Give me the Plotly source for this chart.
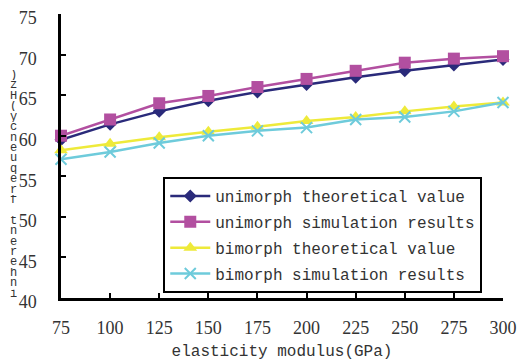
import plotly.graph_objects as go

modulus = [75, 100, 125, 150, 175, 200, 225, 250, 275, 300]
uni_theo = [59.5, 61.4, 63.0, 64.3, 65.4, 66.3, 67.2, 68.0, 68.7, 69.4]
uni_sim = [60.0, 62.0, 64.0, 64.9, 66.0, 67.0, 68.0, 69.0, 69.5, 69.8]
bi_theo = [58.2, 59.0, 59.8, 60.5, 61.1, 61.8, 62.3, 63.0, 63.6, 64.1]
bi_sim = [57.1, 58.0, 59.1, 60.0, 60.6, 61.0, 62.0, 62.3, 63.0, 64.1]
names = ["unimorph theoretical value", "unimorph simulation results",
         "bimorph theoretical value", "bimorph simulation results"]
x_title = "elasticity modulus(GPa)"
y_title = "inherent frequency(Hz)"

series = [uni_theo, uni_sim, bi_theo, bi_sim]
colors = ["#2A2A7A", "#B24FA0", "#EEEA3A", "#6ECBDB"]
symbols = ["diamond", "square", "triangle-up", "x-thin"]
sizes = [10, 12, 12, 11]

fig = go.Figure()
for i, (ys, nm, c, s, sz) in enumerate(zip(series, names, colors, symbols, sizes)):
    marker = dict(symbol=s, size=sz, color=c)
    if s == "x-thin":
        marker["line"] = dict(color=c, width=2)
    fig.add_trace(go.Scatter(x=modulus, y=ys, name=nm, mode="lines+markers",
                             line=dict(color=c, width=2.5), marker=marker,
                             legendgroup=f"g{i}", cliponaxis=False))

W, H = 519, 362
L, R, T, B = 60.5, 15.5, 14, 64.3
pw, ph = W - L - R, H - T - B

def px_x(x):
    return (x - L) / pw

def px_y(y):
    return (H - B - y) / ph

font_mono = "Liberation Mono, DejaVu Sans Mono, monospace"
font_serif = "Liberation Serif, DejaVu Serif, serif"

fig.update_layout(
    width=W, height=H,
    margin=dict(l=L, r=R, t=T, b=B, pad=0, autoexpand=False),
    paper_bgcolor="white", plot_bgcolor="white",
    showlegend=True,
    legend=dict(x=px_x(163), y=px_y(177), xanchor="left", yanchor="top",
                bgcolor="white", bordercolor="black", borderwidth=2,
                font=dict(family=font_mono, size=16, color="#333"),
                itemwidth=40, traceorder="grouped", tracegroupgap=2),
    xaxis=dict(range=[75, 300], tickvals=modulus, ticks="inside", ticklen=5,
               tickwidth=2, tickcolor="black", showline=True, linecolor="black",
               linewidth=2.5, showgrid=False, zeroline=False, automargin=False,
               tickfont=dict(family=font_serif, size=18, color="#333"),
               ticklabelstandoff=12,
               title=dict(text=x_title, font=dict(family=font_mono, size=16, color="#333"),
                          standoff=8)),
    yaxis=dict(range=[40, 75], dtick=5, ticks="inside", ticklen=5, tickwidth=2,
               tickcolor="black", showline=True, linecolor="black", linewidth=2.5,
               showgrid=False, zeroline=False, automargin=False,
               tickfont=dict(family=font_serif, size=18, color="#333"),
               ticklabelstandoff=18, ticklabelshift=4),
)

# stacked vertical y-axis title (characters stacked, reading bottom-to-top)
chars = list(reversed(y_title))
top_px, step = 75, 10.4
for i, ch in enumerate(chars):
    fig.add_annotation(text=ch, xref="paper", yref="paper",
                       x=px_x(13), y=px_y(top_px + i * step),
                       xanchor="center", yanchor="middle", showarrow=False,
                       height=10, valign="middle",
                       font=dict(family=font_mono, size=12, color="#333"))

fig.write_html("out.html", config={"displayModeBar": False},
               post_script="document.body.style.margin='0';document.body.style.overflow='hidden';")
